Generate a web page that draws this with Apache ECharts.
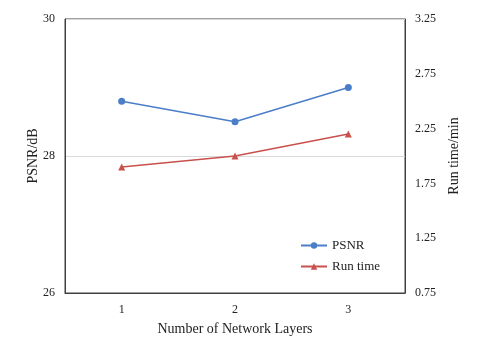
<!DOCTYPE html>
<html>
<head>
<meta charset="utf-8">
<script src="https://cdn.jsdelivr.net/npm/echarts@6/dist/echarts.min.js"></script>
<style>
  html, body { margin: 0; padding: 0; background: #fff; }
  #chart { width: 480px; height: 348px; }
</style>
</head>
<body>
<div id="chart"></div>
<script>
const layers = ['1', '2', '3']
const psnr = [28.8, 28.5, 29.0]
const runTime = [1.9, 2.0, 2.2]

const font = '"Liberation Serif", "Times New Roman", serif'
const axisColor = '#404040'
const textColor = '#222'

const chart = echarts.init(document.getElementById('chart'))
chart.setOption({
  animation: false,
  textStyle: { fontFamily: font },
  grid: {
    left: 65,
    right: 75,
    top: 19,
    bottom: 55,
    show: true,
    borderColor: axisColor,
    borderWidth: 1
  },
  legend: {
    orient: 'vertical',
    left: 295,
    top: 234,
    itemWidth: 26,
    itemHeight: 8,
    itemGap: 8,
    textStyle: { fontFamily: font, fontSize: 13, color: textColor },
    data: ['PSNR', 'Run time']
  },
  xAxis: {
    type: 'category',
    data: layers,
    name: 'Number of Network Layers',
    nameLocation: 'middle',
    nameGap: 29,
    nameTextStyle: { fontFamily: font, fontSize: 14, color: textColor },
    axisLine: { lineStyle: { color: axisColor } },
    axisTick: { inside: true, length: 4, lineStyle: { color: axisColor } },
    axisLabel: { fontFamily: font, fontSize: 12, color: textColor, margin: 11 }
  },
  yAxis: [{
    type: 'value',
    min: 26,
    max: 30,
    interval: 2,
    name: 'PSNR/dB',
    nameLocation: 'middle',
    nameGap: 25,
    nameMoveOverlap: false,
    nameTextStyle: { fontFamily: font, fontSize: 14, color: textColor },
    axisLine: { show: true, lineStyle: { color: axisColor } },
    axisTick: { inside: true, length: 3, lineStyle: { color: axisColor } },
    axisLabel: { fontFamily: font, fontSize: 12, color: textColor, margin: 10 },
    splitLine: { lineStyle: { color: '#d9d9d9' } }
  }, {
    type: 'value',
    min: 0.75,
    max: 3.25,
    interval: 0.5,
    name: 'Run time/min',
    nameLocation: 'middle',
    nameGap: 41,
    nameRotate: 90,
    nameTextStyle: { fontFamily: font, fontSize: 14, color: textColor },
    axisLine: { show: true, lineStyle: { color: axisColor } },
    axisTick: { inside: true, length: 4, lineStyle: { color: axisColor } },
    axisLabel: {
      fontFamily: font, fontSize: 12, color: textColor, margin: 10,
      formatter: v => v.toFixed(2)
    },
    splitLine: { show: false }
  }],
  series: [{
    name: 'PSNR',
    type: 'line',
    data: psnr,
    yAxisIndex: 0,
    symbol: 'circle',
    symbolSize: 7,
    color: '#4A7EC8',
    lineStyle: { width: 1.5 }
  }, {
    name: 'Run time',
    type: 'line',
    data: runTime,
    yAxisIndex: 1,
    symbol: 'triangle',
    symbolSize: 7,
    color: '#C9504D',
    lineStyle: { width: 1.5 }
  }]
})
</script>
</body>
</html>
